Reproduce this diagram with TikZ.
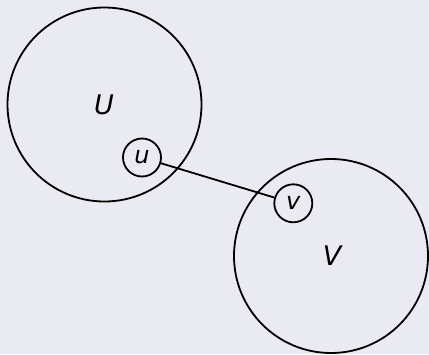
\documentclass[tikz,border=0pt]{standalone}
\usepackage{fontspec}
\setmainfont{DejaVu Sans}
\definecolor{bg}{HTML}{EAEAF2}
\begin{document}
\begin{tikzpicture}[x=1pt,y=-1pt,
  big/.style={circle,draw,line width=1.8pt,minimum size=194pt,inner sep=0pt},
  small/.style={circle,draw,line width=1.8pt,minimum size=38pt,inner sep=0pt},
  biglab/.style={font=\fontsize{27}{29}\selectfont\itshape,inner sep=0pt},
  lab/.style={font=\fontsize{24}{26}\selectfont\itshape,inner sep=0pt}]
\fill[bg] (0,0) rectangle (429,354);
\useasboundingbox (0,0) rectangle (429,354);
\node[big] (U) at (104.5,104.5) {};
\node[biglab] (Ul) at (104,104.5) {U};
\node[big] (V) at (331,256) {};
\node[biglab] (Vl) at (332,256) {V};
\node[small,lab] (u) at (142,157.5) {u};
\node[small,lab] (v) at (293.3,203.3) {v};
\draw[line width=1.8pt] (u) -- (v);
\end{tikzpicture}
\end{document}
